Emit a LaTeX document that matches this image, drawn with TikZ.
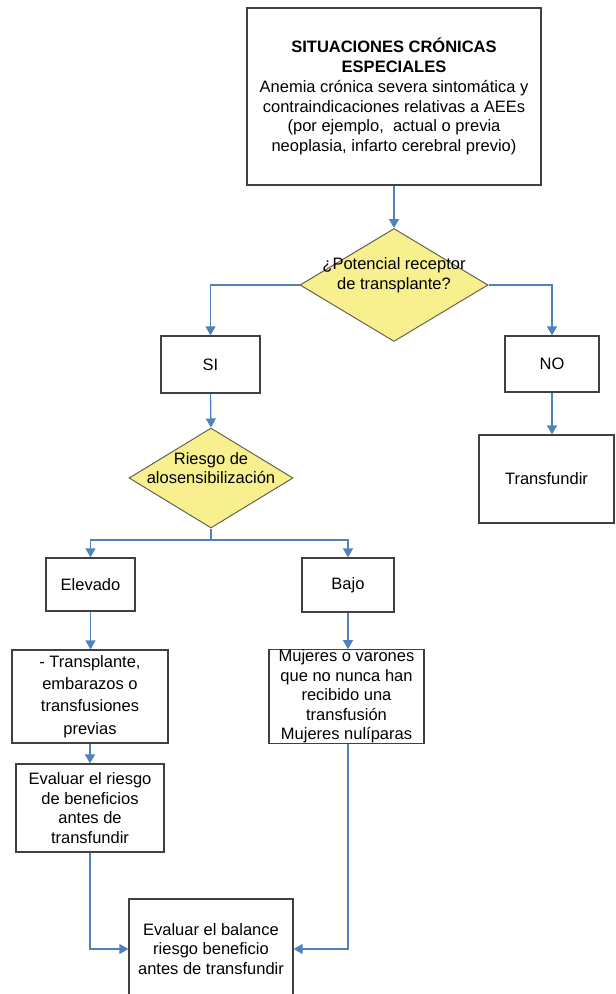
\documentclass[tikz,border=0pt]{standalone}
\usepackage{fontspec}
\setmainfont{Liberation Sans}
\usepackage{tikz}
\usetikzlibrary{shapes.geometric,arrows.meta}
\definecolor{flecha}{RGB}{79,129,189}
\definecolor{borde}{RGB}{64,64,64}
\definecolor{amarillo}{RGB}{248,240,142}

\begin{document}
\begin{tikzpicture}[x=1pt, y=-1pt,
    font=\fontsize{16.5}{19.8}\selectfont,
    caja/.style={draw=borde, line width=1.3pt, fill=white, align=center,
      inner sep=0pt},
    decision/.style={diamond, draw=borde!80!amarillo, line width=1pt,
      fill=amarillo, inner sep=0pt},
    flujo/.style={draw=flecha, line width=1.3pt,
      -{Triangle[width=10pt,length=9pt]}}]
    \useasboundingbox (0,0) rectangle (616,994);
    % cuadros
    \node[caja, minimum width=294pt, minimum height=177pt] (inicio) at (394,96.5)
      {\textbf{SITUACIONES CRÓNICAS}\\ \textbf{ESPECIALES}\\
       Anemia crónica severa sintomática y\\
       contraindicaciones relativas a AEEs\\
       (por ejemplo,\ \ actual o previa\\
       neoplasia, infarto cerebral previo)} ;
    \node[decision, minimum width=188pt, minimum height=113pt,
      label={[align=center, yshift=10pt]center:¿Potencial receptor\\de transplante?}]
      (receptor) at (394,285) {} ;
    \node[caja, minimum width=99pt, minimum height=57pt] (si) at (210.5,364.5) {SI} ;
    \node[caja, minimum width=94pt, minimum height=56pt] (no) at (552,364) {NO} ;
    \node[caja, minimum width=135pt, minimum height=88pt] (transfundir)
      at (546.5,479) {Transfundir} ;
    \node[decision, minimum width=164pt, minimum height=100pt,
      label={[align=center, yshift=10pt]center:Riesgo de\\alosensibilización}]
      (riesgo) at (211,478) {} ;
    \coordinate (reparto) at (211,540) ;
    \node[caja, minimum width=89pt, minimum height=53pt] (elevado)
      at (90.5,584.5) {Elevado} ;
    \node[caja, minimum width=92pt, minimum height=54pt] (bajo)
      at (348,585) {Bajo} ;
    \node[caja, minimum width=156pt, minimum height=93pt,
      font=\fontsize{16.5}{22.4}\selectfont] (previos) at (90,696.5)
      {- Transplante,\\embarazos o\\transfusiones\\previas} ;
    \node[caja, minimum width=155pt, minimum height=93pt,
      font=\fontsize{16.5}{19.5}\selectfont] (nunca) at (346.5,696.5)
      {Mujeres o varones\\que no nunca han\\recibido una\\transfusión\\Mujeres nulíparas} ;
    \node[caja, minimum width=148pt, minimum height=88pt] (evaluar) at (90,808)
      {Evaluar el riesgo\\de beneficios\\antes de\\transfundir} ;
    \node[caja, minimum width=164pt, minimum height=100pt] (balance) at (211,949)
      {Evaluar el balance\\riesgo beneficio\\antes de transfundir} ;
    % conectores
    \begin{scope}[flujo]
      \draw (inicio.south) -- (receptor.north) ;
      \draw (receptor.west) -| (si.north) ;
      \draw (receptor.east) -| (no.north) ;
      \draw (si.south) -- (riesgo.north) ;
      \draw (no.south) -- (no.south |- transfundir.north) ;
      \draw (elevado.south) -- (previos.north -| elevado.south) ;
      \draw (previos.south) -- (evaluar.north) ;
      \draw (bajo.south) -- (nunca.north -| bajo.south) ;
      \draw (evaluar.south) |- (balance.west) ;
      \draw (nunca.south -| bajo.south) |- (balance.east) ;
      \draw (reparto) -| (elevado.north) ;
      \draw (reparto) -| (bajo.north) ;
    \end{scope}
    \draw[flecha, line width=1.3pt] (riesgo.south) -- (reparto) ;
\end{tikzpicture}
\end{document}
